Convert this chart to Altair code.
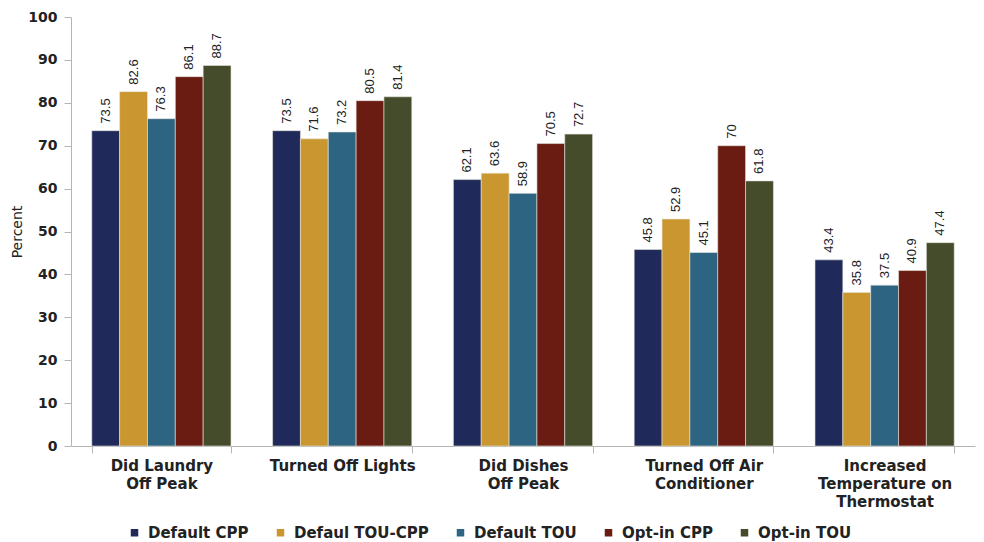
import altair as alt
import pandas as pd

# Activities (use "|" to break axis labels onto several lines)
categories = [
    "Did Laundry|Off Peak",
    "Turned Off Lights",
    "Did Dishes|Off Peak",
    "Turned Off Air|Conditioner",
    "Increased|Temperature on|Thermostat",
]
series = ["Default CPP", "Defaul TOU-CPP", "Default TOU", "Opt-in CPP", "Opt-in TOU"]
colors = ["#1f2a5a", "#c9962f", "#2d6482", "#6b1c12", "#454c2b"]

default_cpp = [73.5, 73.5, 62.1, 45.8, 43.4]
default_tou_cpp = [82.6, 71.6, 63.6, 52.9, 35.8]
default_tou = [76.3, 73.2, 58.9, 45.1, 37.5]
optin_cpp = [86.1, 80.5, 70.5, 70, 40.9]
optin_tou = [88.7, 81.4, 72.7, 61.8, 47.4]

rows = []
for name, vals in zip(series, [default_cpp, default_tou_cpp, default_tou, optin_cpp, optin_tou]):
    for cat, v in zip(categories, vals):
        rows.append({"activity": cat, "group": name, "percent": v})
df = pd.DataFrame(rows)

FONT = "DejaVu Sans"
VALUE_FONT = "Liberation Sans"

x = alt.X(
    "activity:N",
    sort=categories,
    scale=alt.Scale(paddingInner=0.23, paddingOuter=0.115),
    axis=alt.Axis(
        title=None,
        labelAngle=0,
        labelExpr="split(datum.label, '|')",
        tickBand="extent",
        labelFont=FONT,
        labelFontWeight="bold",
        labelFontSize=15,
        labelLineHeight=18,
        labelPadding=5,
        tickSize=7,
        labelColor="#222222",
    ),
)
xoff = alt.XOffset("group:N", sort=series, scale=alt.Scale(paddingInner=0, paddingOuter=0))
y = alt.Y(
    "percent:Q",
    scale=alt.Scale(domain=[0, 100], nice=False),
    axis=alt.Axis(
        values=list(range(0, 101, 10)),
        labelFont=FONT,
        labelFontSize=14,
        labelFontWeight="bold",
        labelColor="#222222",
        tickSize=7,
        labelPadding=7,
        title="Percent",
        titleFont=FONT,
        titleFontSize=14,
        titleFontWeight="normal",
        titleColor="#222222",
        titlePadding=3,
    ),
)

color = alt.Color(
    "group:N",
    sort=series,
    scale=alt.Scale(domain=series, range=colors),
    legend=alt.Legend(
        orient="none",
        legendX=56,
        legendY=508,
        direction="horizontal",
        title=None,
        symbolType="square",
        symbolSize=56,
        symbolStrokeWidth=0,
        labelFont=FONT,
        labelFontSize=15,
        labelFontWeight="bold",
        labelColor="#222222",
        labelOffset=6,
        columnPadding=24,
    ),
)

bars = alt.Chart(df).mark_bar(stroke="#e6e6dc", strokeWidth=0.6).encode(
    x=x, xOffset=xoff, y=y, color=color
)

labels = alt.Chart(df).mark_text(
    angle=270, align="left", baseline="middle", dx=7, fontSize=13, font=VALUE_FONT, color="#222222"
).encode(
    x=alt.X("activity:N", sort=categories),
    xOffset=alt.XOffset("group:N", sort=series),
    y="percent:Q",
    text=alt.Text("percent:Q"),
)

chart = (
    alt.layer(bars, labels)
    .properties(
        width=904,
        height=429,
        autosize=alt.AutoSizeParams(type="none"),
        padding={"left": 71, "top": 17, "right": 9, "bottom": 96},
        background="white",
    )
    .configure(font=FONT)
    .configure_view(stroke=None)
    .configure_axis(grid=False, domainColor="#b5b5b5", tickColor="#b5b5b5", domainWidth=1)
)

chart.save("out.html", embed_options={"renderer": "svg", "actions": False})
